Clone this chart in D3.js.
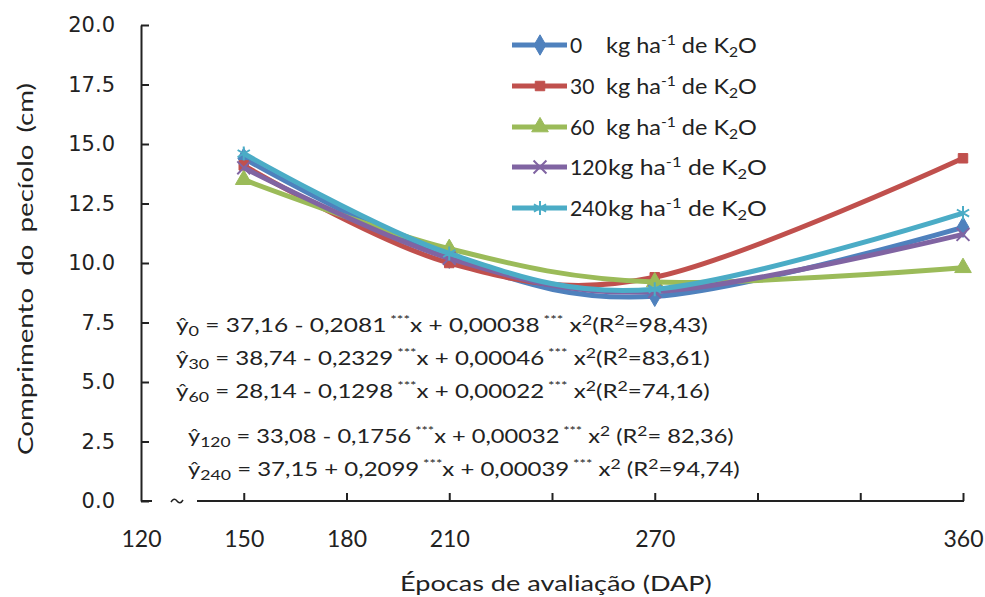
<!DOCTYPE html>
<html>
<head>
<meta charset="utf-8">
<script src="https://cdn.jsdelivr.net/npm/d3@7"></script>
<style>
  html, body { margin: 0; padding: 0; background: #fff; }
  svg { display: block; }
</style>
</head>
<body>
<svg id="chart" width="985" height="597"></svg>
<script>
// ---------- data ----------
const days = [150, 210, 270, 360];
const seriesNames = ["0", "30", "60", "120", "240"];
const k0   = [14.4, 10.2, 8.6, 11.5];
const k30  = [14.1, 10.0, 9.4, 14.4];
const k60  = [13.5, 10.6, 9.2, 9.8];
const k120 = [14.0, 10.2, 8.8, 11.2];
const k240 = [14.6, 10.4, 8.9, 12.1];
const seriesColors = ["#4F81BD", "#C0504D", "#9BBB59", "#8064A2", "#4BACC6"];
const yTicks = [0, 2.5, 5, 7.5, 10, 12.5, 15, 17.5, 20];
const xTicks = [120, 150, 180, 210, 240, 270, 300, 330, 360];
const xTickLabels = [120, 150, 180, 210, 270, 360];
const eqSub = ["0", "30", "60", "120", "240"];
const eqA = ["37,16 - 0,2081", "38,74 - 0,2329", "28,14 - 0,1298", "33,08 - 0,1756", "37,15 + 0,2099"];
const eqB = ["x + 0,00038", "x + 0,00046", "x + 0,00022", "x + 0,00032", "x + 0,00039"];
const eqR2 = ["=98,43)", "=83,61)", "=74,16)", "= 82,36)", "=94,74)"];
const xTitle = "Épocas de avaliação (DAP)";
const yTitle = "Comprimento do pecíolo (cm)";

const allSeries = [k0, k30, k60, k120, k240];

// ---------- layout ----------
const svg = d3.select("#chart");
const x = d3.scaleLinear().domain([120, 360]).range([141, 963]);
const y = d3.scaleLinear().domain([0, 20]).range([501, 25]);

const sans = "Lato, 'Open Sans', sans-serif";
const ink = "#222";

// stretch a horizontal text element (anchored at x0,y0) to a target width
function fitWidth(sel, x0, y0, target) {
  const w = sel.node().getComputedTextLength();
  const s = target / w;
  sel.attr("transform", `translate(${x0},${y0}) scale(${s.toFixed(4)},1) translate(${-x0},${-y0})`);
}

// Y axis
const yAxis = d3.axisLeft(y).tickValues(yTicks).tickFormat(d3.format(".1f"))
  .tickSizeInner(-8).tickSizeOuter(0).tickPadding(26);
const gy = svg.append("g").attr("transform", "translate(141,0)").call(yAxis);
gy.select(".domain").attr("stroke", ink).attr("stroke-width", 2);
gy.selectAll(".tick line").attr("stroke", ink).attr("stroke-width", 2);
gy.selectAll(".tick text").attr("font-family", "'DejaVu Sans', Verdana, sans-serif")
  .attr("font-size", 21).attr("fill", ink);

// X axis
const xAxis = d3.axisBottom(x).tickValues(xTicks)
  .tickFormat(d => xTickLabels.includes(d) ? String(d) : "")
  .tickSizeInner(-8).tickSizeOuter(0).tickPadding(30);
const gx = svg.append("g").attr("transform", "translate(0,501)").call(xAxis);
gx.select(".domain").remove();
gx.selectAll(".tick line").attr("stroke", ink).attr("stroke-width", 2)
  .filter(d => d === 120).remove();
gx.selectAll(".tick text").attr("font-family", sans).attr("font-size", 23).attr("fill", ink);

// x axis line with break
gx.append("line").attr("x1", 141).attr("x2", 152).attr("y1", 0).attr("y2", 0)
  .attr("stroke", ink).attr("stroke-width", 2);
gx.append("line").attr("x1", 197).attr("x2", x(360) + 1).attr("y1", 0).attr("y2", 0)
  .attr("stroke", ink).attr("stroke-width", 2);
gx.append("path").attr("d", "M171,1 q3,-5 6,-1 q3,4 6,-1")
  .attr("fill", "none").attr("stroke", ink).attr("stroke-width", 1.5);

// titles
const xt = svg.append("text").attr("x", 400).attr("y", 591)
  .attr("font-family", sans).attr("font-size", 22).attr("fill", ink).text(xTitle);
fitWidth(xt, 400, 591, 312);
const ytG = svg.append("g").attr("transform", "translate(33,455) rotate(-90)");
const yt = ytG.append("text").attr("x", 0).attr("y", 0)
  .attr("font-family", sans).attr("font-size", 22).attr("word-spacing", 4).attr("fill", ink).text(yTitle);
fitWidth(yt, 0, 0, 372);

// ---------- series ----------
const line = d3.line().x((d, i) => x(days[i])).y(d => y(d)).curve(d3.curveCatmullRom.alpha(0));
const symbolTypes = [d3.symbolDiamond, d3.symbolSquare, d3.symbolTriangle, d3.symbolX, d3.symbolAsterisk];
const symbolSizes = [120, 90, 120, 110, 140];
const filled = [true, true, true, false, false];

function drawMarker(g, i, cx, cy) {
  const p = d3.symbol().type(symbolTypes[i]).size(symbolSizes[i])();
  const m = g.append("path").attr("d", p).attr("transform", `translate(${cx},${cy})`);
  if (filled[i]) m.attr("fill", seriesColors[i]).attr("stroke", seriesColors[i]).attr("stroke-width", 1);
  else m.attr("fill", "none").attr("stroke", seriesColors[i]).attr("stroke-width", 2);
}

allSeries.forEach((vals, i) => {
  const g = svg.append("g");
  g.append("path").attr("d", line(vals)).attr("fill", "none")
    .attr("stroke", seriesColors[i]).attr("stroke-width", 5).attr("stroke-linejoin", "round");
  vals.forEach((v, j) => drawMarker(g, i, x(days[j]), y(v)));
});

// ---------- legend ----------
const legRowY = [45, 86, 127, 167, 208];
const legTextEnd = [757, 757, 757, 767, 767];
seriesNames.forEach((name, i) => {
  const g = svg.append("g");
  const cy = legRowY[i];
  g.append("line").attr("x1", 512).attr("x2", 567).attr("y1", cy).attr("y2", cy)
    .attr("stroke", seriesColors[i]).attr("stroke-width", 5);
  drawMarker(g, i, 540, cy);
  const n = g.append("text").attr("x", 570).attr("y", cy + 8).attr("font-family", sans)
    .attr("font-size", 21).attr("fill", ink).text(name);
  if (name.length === 3) fitWidth(n, 570, cy + 8, 37);
  const kx = i >= 3 ? 608 : 606;
  const t = g.append("text").attr("x", kx).attr("y", cy + 8).attr("font-family", sans)
    .attr("font-size", 21).attr("fill", ink);
  t.append("tspan").text("kg ha");
  t.append("tspan").attr("font-size", 14).attr("dy", -8).text("-1");
  t.append("tspan").attr("dy", 8).text(" de K");
  t.append("tspan").attr("font-size", 14).attr("dy", 4).text("2");
  t.append("tspan").attr("dy", -4).text("O");
  fitWidth(t, kx, cy + 8, legTextEnd[i] - kx);
});

// ---------- equations ----------
const eqRowY = [332, 365, 398, 443, 476];
const eqX = [176, 176, 176, 188, 188];
const eqEnd = [708, 710, 710, 734, 740];
eqSub.forEach((s, i) => {
  const t = svg.append("text").attr("x", eqX[i]).attr("y", eqRowY[i]).attr("font-family", sans)
    .attr("font-size", 19).attr("fill", ink);
  t.append("tspan").text("ŷ");
  t.append("tspan").attr("font-size", 14).attr("dy", 4).text(s);
  t.append("tspan").attr("dy", -4).text(" = " + eqA[i]);
  t.append("tspan").attr("font-size", 12).attr("dy", -8).text(" ***");
  t.append("tspan").attr("dy", 8).text(eqB[i]);
  t.append("tspan").attr("font-size", 12).attr("dy", -8).text(" ***");
  t.append("tspan").attr("dy", 8).text(" x");
  t.append("tspan").attr("font-size", 14).attr("dy", -7).text("2");
  t.append("tspan").attr("dy", 7).text(i >= 3 ? " (R" : "(R");
  t.append("tspan").attr("font-size", 14).attr("dy", -7).text("2");
  t.append("tspan").attr("dy", 7).text(eqR2[i]);
  fitWidth(t, eqX[i], eqRowY[i], eqEnd[i] - eqX[i]);
});
</script>
</body>
</html>
